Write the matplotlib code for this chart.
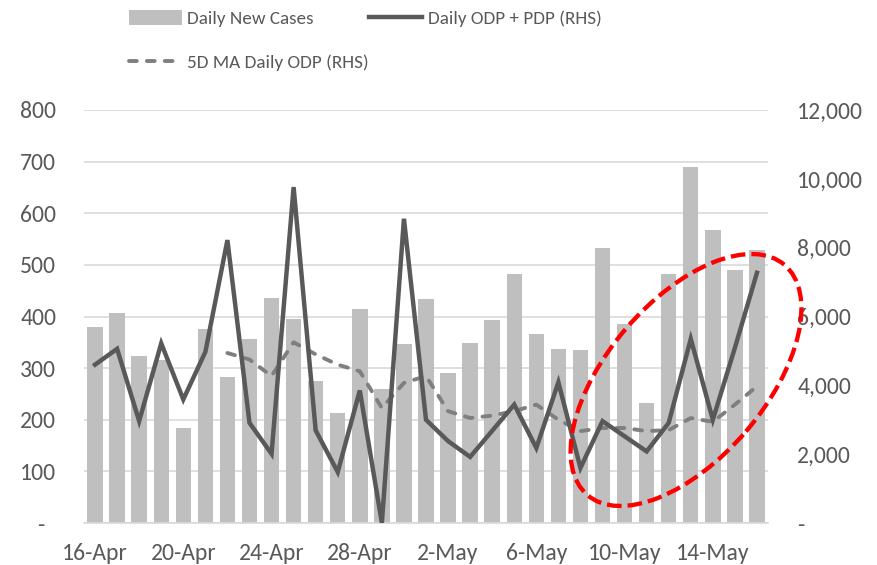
import matplotlib
matplotlib.use("Agg")
import matplotlib.pyplot as plt
from matplotlib.patches import Ellipse, Patch
from matplotlib.lines import Line2D
import numpy as np

days = ["16-Apr", "17-Apr", "18-Apr", "19-Apr", "20-Apr", "21-Apr", "22-Apr", "23-Apr",
        "24-Apr", "25-Apr", "26-Apr", "27-Apr", "28-Apr", "29-Apr", "30-Apr", "1-May",
        "2-May", "3-May", "4-May", "5-May", "6-May", "7-May", "8-May", "9-May",
        "10-May", "11-May", "12-May", "13-May", "14-May", "15-May", "16-May"]
new_cases = [379, 406, 324, 315, 184, 375, 283, 357, 435, 395, 275, 214, 415, 259, 346,
             433, 291, 348, 394, 483, 366, 337, 335, 532, 385, 233, 483, 689, 568, 490, 529]
odp_pdp = [4600, 5060, 2960, 5220, 3590, 4970, 8220, 2910, 2010, 9760, 2690, 1480, 3850,
           0, 8840, 3000, 2380, 1920, 2680, 3440, 2180, 4090, 1600, 2960, 2520, 2080,
           2910, 5350, 3000, 5090, 7270]
ma5_odp = [np.nan, np.nan, np.nan, np.nan, np.nan, np.nan, 4940, 4750, 4270, 5250, 4900,
           4600, 4410, 3340, 4070, 4270, 3250, 3050, 3120, 3250, 3440, 3000, 2670, 2760,
           2760, 2670, 2700, 3050, 2940, 3440, 3970]
left_ticks = [0, 100, 200, 300, 400, 500, 600, 700, 800]
right_ticks = [0, 2000, 4000, 6000, 8000, 10000, 12000]

plt.rcParams['font.family'] = ['Carlito', 'Lato', 'DejaVu Sans']
txt = '#595959'
fs = 17
fs_leg = 13.8
ma_style = dict(color='#7f7f7f', linewidth=2.8, linestyle=(0, (2.0, 2.6)),
                dash_capstyle='round')

fig = plt.figure(figsize=(8.78, 5.65), dpi=100)
ax = fig.add_axes([84/878, 1-523/565, (768-84)/878, (523-110)/565])
x = np.arange(len(days))
ax.bar(x, new_cases, width=0.7, color='#bfbfbf', zorder=2)
ax.set_ylim(0, 800)
ax.set_xlim(-0.5, len(days) - 0.5)
ax.set_yticks(left_ticks)
ax.set_yticklabels(['-  '] + [str(v) for v in left_ticks[1:]])
ax.yaxis.grid(True, color='#d9d9d9', linewidth=1.2, zorder=0)
ax.set_axisbelow(True)
for s in ax.spines.values():
    s.set_visible(False)
ax.spines['bottom'].set_visible(True)
ax.spines['bottom'].set_color('#d9d9d9')
ax.spines['bottom'].set_linewidth(1.2)
ax.tick_params(axis='both', length=0, colors=txt, labelsize=fs)
ax.tick_params(axis='y', pad=20)
ax.tick_params(axis='x', pad=14.5)
ax.set_xticks(x[::4])
ax.set_xticklabels(days[::4])

ax2 = ax.twinx()
ax2.plot(x, odp_pdp, color='#595959', linewidth=3.2, zorder=4, solid_joinstyle='miter')
ax2.plot(x, ma5_odp, zorder=3, **ma_style)
ax2.set_ylim(0, 12000)
ax2.set_yticks(right_ticks)
ax2.set_yticklabels(['-'] + [f"{v:,}" for v in right_ticks[1:]])
for s in ax2.spines.values():
    s.set_visible(False)
ax2.tick_params(axis='y', length=0, colors=txt, labelsize=fs, pad=21)
for lab in ax2.get_yticklabels():
    lab.set_horizontalalignment('left')

# red annotation ellipse (figure pixel overlay)
ov = fig.add_axes([0, 0, 1, 1], facecolor='none')
ov.set_xlim(0, 878)
ov.set_ylim(0, 565)
ov.axis('off')
ov.add_patch(Ellipse((686, 565 - 380), 303, 158, angle=49.4, fill=False,
                     edgecolor='#ff0000', linewidth=3.1, linestyle=(0, (3.4, 1.4))))

handles = [Patch(facecolor='#bfbfbf', edgecolor='none'),
           Line2D([], [], color='#595959', linewidth=3.2),
           Line2D([], [], **ma_style)]
labels = ['Daily New Cases', 'Daily ODP + PDP (RHS)', '5D MA Daily ODP (RHS)']
leg = fig.legend([handles[0], handles[2], handles[1]], [labels[0], labels[2], labels[1]],
                 ncol=2, loc='upper left', bbox_to_anchor=(129/878, 1 - 10/565),
                 frameon=False, fontsize=fs_leg, handlelength=2.75, handleheight=0.85,
                 handletextpad=0.3, columnspacing=0.0, labelspacing=1.38,
                 borderpad=0, borderaxespad=0)
for t in leg.get_texts():
    t.set_color(txt)

fig.savefig('out.png', dpi=100)
